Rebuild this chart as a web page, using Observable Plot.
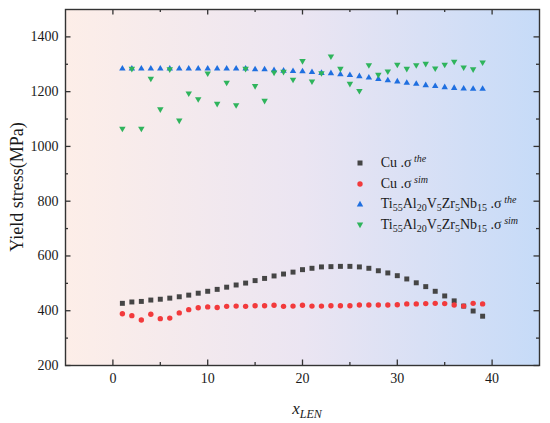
<!DOCTYPE html>
<html><head><meta charset="utf-8">
<script src="https://cdn.jsdelivr.net/npm/d3@7"></script>
<script src="https://cdn.jsdelivr.net/npm/@observablehq/plot@0.6"></script>
<style>
body{margin:0;background:#fff;}
#wrap{position:relative;width:550px;height:423px;font-family:"Liberation Serif","Times New Roman",serif;}
#wrap svg{display:block;}
#wrap svg text, #wrap svg tspan{font-family:"Liberation Serif","Times New Roman",serif !important;}
#legend{position:absolute;left:354px;top:153px;font-size:14px;color:#1a1a1a;font-family:"Liberation Serif",serif;}
.row{height:20.6px;line-height:20.6px;display:flex;align-items:center;white-space:nowrap;}
.row svg.sym{width:12px;height:12px;margin-right:14.7px;flex:none;}
.sb{font-size:10px;vertical-align:-3px;line-height:0;}
.sp{font-size:10px;font-style:italic;vertical-align:5px;line-height:0;}
</style>
</head><body>
<div id="wrap"><div id="legend"></div></div>
<script>
// ---- data ----
const xLen = [1,2,3,4,5,6,7,8,9,10,11,12,13,14,15,16,17,18,19,20,21,22,23,24,25,26,27,28,29,30,31,32,33,34,35,36,37,38,39];
const cuThe = [427,432,434,439,442,446,451,457,464,471,478,486,494,501,510,518,527,534,541,550,555,560,561,562,562,560,555,546,538,528,516,502,488,471,454,436,417,399,380];
const cuSim = [389,382,366,387,371,373,392,404,411,414,412,416,417,416,418,418,420,416,417,420,417,417,418,418,418,421,421,421,421,422,425,425,426,427,426,421,417,427,425];
const tiThe = [1284,1284,1284,1284,1284,1284,1284,1284,1284,1284,1284,1284,1284,1284,1281,1281,1278,1276,1275,1274,1271,1268,1267,1263,1260,1256,1251,1246,1241,1237,1232,1228,1223,1220,1216,1213,1211,1210,1210];
const tiSim = [1065,1284,1065,1248,1136,1282,1095,1194,1173,1267,1156,1233,1151,1284,1221,1167,1270,1273,1244,1312,1238,1268,1329,1284,1229,1203,1297,1262,1274,1299,1284,1297,1302,1285,1299,1310,1289,1282,1307];
const xMajor = [0,10,20,30,40];
const xMinor = [5,15,25,35];
const yMajor = [200,400,600,800,1000,1200,1400];
const yMinor = [300,500,700,900,1100,1300];
const seriesNames = ["Cu_the","Cu_sim","Ti_the","Ti_sim"];
const seriesColors = ["#454545","#f23a3c","#1f6fe0","#2fb45c"];

// ---- layout ----
const W = 550, H = 423, mL = 65, mR = 11, mT = 9, mB = 58;
const innerH = H - mT - mB, innerW = W - mL - mR;
const majorLen = 5.5, minorLen = 3;
const axisColor = "#333";

const triDown = {
  draw(ctx, size) {
    const s3 = Math.sqrt(3);
    const y = -Math.sqrt(size / (s3 * 3));
    ctx.moveTo(0, -y * 2);
    ctx.lineTo(-s3 * y, y);
    ctx.lineTo(s3 * y, y);
    ctx.closePath();
  }
};

const table = (vals) => xLen.map((x, i) => ({x, y: vals[i]}));

const chart = Plot.plot({
  width: W, height: H,
  marginLeft: mL, marginRight: mR, marginTop: mT, marginBottom: mB,
  style: {fontFamily: "'Liberation Serif', serif", fontSize: "14px", color: "#1a1a1a", background: "transparent"},
  x: {domain: [-5, 45]},
  y: {domain: [200, 1500]},
  marks: [
    Plot.frame({fill: "url(#bgGrad)", stroke: null}),
    // inward ticks on all four sides
    Plot.tickX(xMajor, {x: d => d, insetTop: innerH - majorLen, stroke: axisColor, strokeWidth: 1.3}),
    Plot.tickX(xMinor, {x: d => d, insetTop: innerH - minorLen, stroke: axisColor, strokeWidth: 1.3}),
    Plot.tickX(xMajor, {x: d => d, insetBottom: innerH - majorLen, stroke: axisColor, strokeWidth: 1.3}),
    Plot.tickX(xMinor, {x: d => d, insetBottom: innerH - minorLen, stroke: axisColor, strokeWidth: 1.3}),
    Plot.tickY(yMajor, {y: d => d, insetRight: innerW - majorLen, stroke: axisColor, strokeWidth: 1.3}),
    Plot.tickY(yMinor, {y: d => d, insetRight: innerW - minorLen, stroke: axisColor, strokeWidth: 1.3}),
    Plot.tickY(yMajor, {y: d => d, insetLeft: innerW - majorLen, stroke: axisColor, strokeWidth: 1.3}),
    Plot.tickY(yMinor, {y: d => d, insetLeft: innerW - minorLen, stroke: axisColor, strokeWidth: 1.3}),
    Plot.axisX({ticks: xMajor, tickFormat: d => String(d), tickSize: 0, tickPadding: 8, label: null, fontSize: 14, fill: "#1a1a1a"}),
    Plot.axisY({ticks: yMajor, tickFormat: d => String(d), tickSize: 0, tickPadding: 7, label: null, fontSize: 14, fill: "#1a1a1a"}),
    Plot.dot(table(cuThe), {x: "x", y: "y", symbol: "square", r: 2.8, fill: seriesColors[0]}),
    Plot.dot(table(cuSim), {x: "x", y: "y", symbol: "circle", r: 2.7, fill: seriesColors[1]}),
    Plot.dot(table(tiThe), {x: "x", y: "y", symbol: "triangle", r: 2.4, fill: seriesColors[2]}),
    Plot.dot(table(tiSim), {x: "x", y: "y", symbol: triDown, r: 2.4, fill: seriesColors[3]}),
    Plot.frame({stroke: axisColor, strokeWidth: 1.4})
  ]
});

const svg = d3.select(chart);
const grad = svg.insert("defs", ":first-child").append("linearGradient")
  .attr("id", "bgGrad").attr("x1", "0").attr("x2", "1").attr("y1", "0").attr("y2", "0");
grad.append("stop").attr("offset", "0").attr("stop-color", "#fdeee8");
grad.append("stop").attr("offset", "0.5").attr("stop-color", "#ebe5f2");
grad.append("stop").attr("offset", "1").attr("stop-color", "#c6dbf8");

// axis titles
svg.append("text")
  .attr("transform", `translate(17,${mT + innerH / 2}) rotate(-90)`)
  .attr("text-anchor", "middle").attr("dy", "0.35em")
  .attr("font-size", 18).attr("fill", "#1a1a1a")
  .text("Yield stress(MPa)");
const xl = svg.append("text")
  .attr("x", mL + innerW / 2 + 5).attr("y", 414)
  .attr("text-anchor", "middle")
  .attr("fill", "#1a1a1a").attr("font-style", "italic");
xl.append("tspan").attr("font-size", 17).text("x");
xl.append("tspan").attr("font-size", 12).attr("dy", 4).text("LEN");

document.getElementById("wrap").prepend(chart);

// legend
const symPaths = [
  `<rect x="3.5" y="3.5" width="5" height="5"/>`,
  `<circle cx="6" cy="6" r="2.7"/>`,
  `<path d="M6,2.8 L9.2,8.4 L2.8,8.4 Z"/>`,
  `<path d="M6,9.2 L9.2,3.6 L2.8,3.6 Z"/>`
];
const ti = `Ti<span class="sb">55</span>Al<span class="sb">20</span>V<span class="sb">5</span>Zr<span class="sb">5</span>Nb<span class="sb">15</span>`;
const labels = [
  `Cu .σ<span class="sp"> the</span>`,
  `Cu .σ<span class="sp"> sim</span>`,
  `${ti} .σ<span class="sp"> the</span>`,
  `${ti} .σ<span class="sp"> sim</span>`
];
document.getElementById("legend").innerHTML = seriesNames.map((n, i) =>
  `<div class="row"><svg class="sym" viewBox="0 0 12 12" fill="${seriesColors[i]}">${symPaths[i]}</svg><span>${labels[i]}</span></div>`
).join("");
</script>
</body></html>
